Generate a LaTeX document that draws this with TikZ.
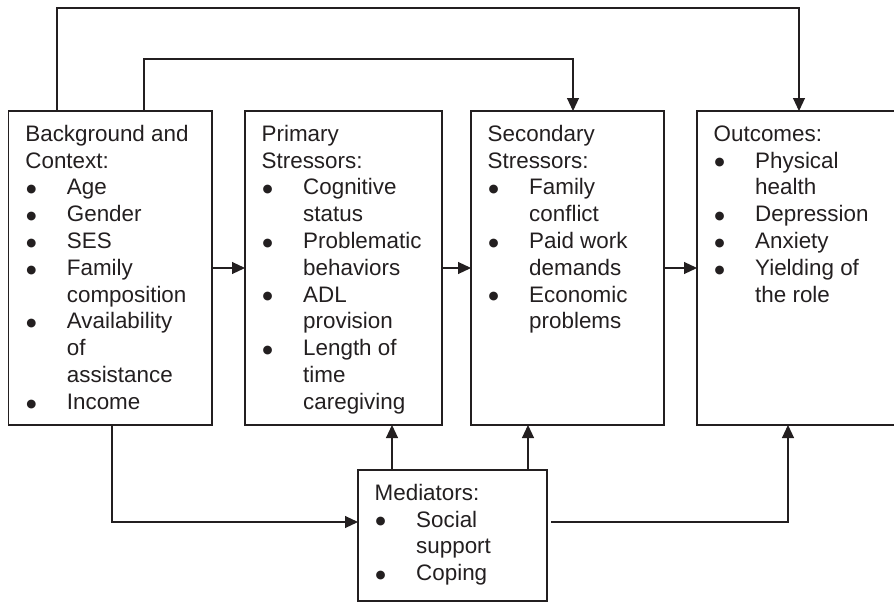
\documentclass[tikz,border=0pt]{standalone}
\usepackage{fontspec}
\setmainfont{Liberation Sans}
\newfontfamily\dejavu{DejaVu Sans}
\usetikzlibrary{arrows.meta}
\definecolor{ink}{RGB}{35,31,32}
\newcommand{\bul}{\makebox[41.5pt][l]{\hspace*{1pt}\raisebox{2.2pt}{\fontsize{11.5pt}{12pt}\dejavu ●}}}
\newcommand{\cont}{\hspace*{41.5pt}}
\begin{document}
\begin{tikzpicture}[x=1pt,y=-1pt,
  box/.style={draw=ink, line width=1.1pt, inner sep=0pt, outer sep=0pt, anchor=north west},
  txt/.style={anchor=north west, inner sep=0pt, align=left, text=ink, font=\fontsize{22.4pt}{26.8pt}\selectfont},
  arr/.style={draw=ink, line width=1.1pt, -{Triangle[length=13pt,width=12pt]}}]
\useasboundingbox (0,0) rectangle (894,602);
\begin{scope}
\clip (0,0) rectangle (894,602);
\node[box, minimum width=203.3pt, minimum height=314pt] (bg) at (8.7,111) {};
\node[box, minimum width=197pt, minimum height=314pt] (pr) at (245,111) {};
\node[box, minimum width=193pt, minimum height=314pt] (se) at (471,111) {};
\node[box, minimum width=220pt, minimum height=314pt] (ou) at (697,111) {};
\node[box, minimum width=189pt, minimum height=131pt] (me) at (358,470) {};
\end{scope}
\node[txt] (bgt) at ([shift={(16.5,11.24)}]bg.north west) {\strut Background and\\Context:\\\bul Age\\\bul Gender\\\bul SES\\\bul Family\\\cont composition\\\bul Availability\\\cont of\\\cont assistance\\\bul Income};
\node[txt] (prt) at ([shift={(16.5,11.24)}]pr.north west) {\strut Primary\\Stressors:\\\bul Cognitive\\\cont status\\\bul Problematic\\\cont behaviors\\\bul ADL\\\cont provision\\\bul Length of\\\cont time\\\cont caregiving};
\node[txt] (set) at ([shift={(16.5,11.24)}]se.north west) {\strut Secondary\\Stressors:\\\bul Family\\\cont conflict\\\bul Paid work\\\cont demands\\\bul Economic\\\cont problems};
\node[txt] (out) at ([shift={(16.5,11.24)}]ou.north west) {\strut Outcomes:\\\bul Physical\\\cont health\\\bul Depression\\\bul Anxiety\\\bul Yielding of\\\cont the role};
\node[txt] (met) at ([shift={(16.5,11.24)}]me.north west) {\strut Mediators:\\\bul Social\\\cont support\\\bul Coping};
\coordinate (a1) at (57,8);
\coordinate (a2) at (799,8);
\draw[arr] (bg.north -| a1) -- (a1) -- (a2) -- (ou.north -| a2);
\coordinate (b1) at (144,59);
\coordinate (b2) at (573,59);
\draw[arr] (bg.north -| b1) -- (b1) -- (b2) -- (se.north -| b2);
\draw[arr] (bg.east) -- (pr.west);
\draw[arr] (pr.east) -- (se.west);
\draw[arr] (se.east) -- (ou.west);
\coordinate (d1) at (112,522);
\draw[arr] (bg.south -| d1) -- (d1) -- (me.west |- d1);
\coordinate (e1) at (392,450);
\coordinate (e2) at (528,450);
\draw[arr] (me.north -| e1) -- (pr.south -| e1);
\draw[arr] (me.north -| e2) -- (se.south -| e2);
\coordinate (f1) at (788,522);
\draw[arr, shorten <=4pt] (me.east |- f1) -- (f1) -- (ou.south -| f1);
\end{tikzpicture}
\end{document}
